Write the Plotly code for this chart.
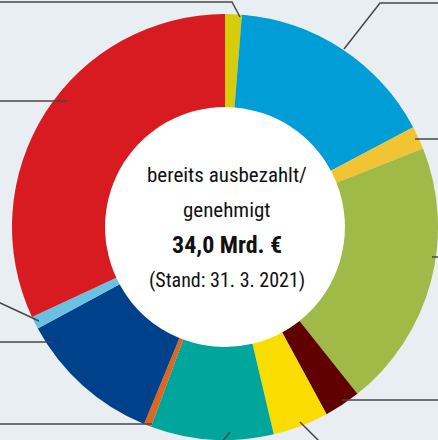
import plotly.graph_objects as go

# ---- data (Mrd. €), clockwise from 12 o'clock ----
segments = ["Segment 1", "Segment 2", "Segment 3", "Segment 4", "Segment 5", "Segment 6",
            "Segment 7", "Segment 8", "Segment 9", "Segment 10", "Segment 11"]
values = [0.43, 5.43, 0.60, 6.91, 0.94, 1.44, 3.17, 0.19, 3.70, 0.33, 10.86]
colors = ["#D6CC0A", "#009DD6", "#F0C433", "#A0BA48", "#600000", "#F9DC00",
          "#00A69C", "#E0651E", "#00418C", "#6AC2E2", "#D81B21"]

center_lines = ["bereits ausbezahlt/", "genehmigt", "<b>34,0 Mrd. €</b>", "(Stand: 31. 3. 2021)"]

# ---- layout constants ----
W, H = 438, 440
BG = "#E9EEF2"
FONT = "Roboto Condensed, Liberation Sans Narrow, Lato, sans-serif"

# leader lines (pixel coords of the page) – decoration only
leaders = [
    [(0, 2), (232, 2), (240, 17)],
    [(344, 49), (380, 3), (440, 3)],
    [(415, 139), (440, 139)],
    [(432, 257), (440, 257)],
    [(342, 400), (440, 400)],
    [(300, 422), (320, 442)],
    [(230, 432), (222, 442)],
    [(152, 424), (-2, 424)],
    [(53, 342), (-2, 342)],
    [(39, 321), (-2, 302)],
    [(67, 101), (-2, 101)],
]

CX, CY, R_IN = 225, 227, 121


def px(x):
    return x / W


def py(y):
    return 1 - y / H


fig = go.Figure()
fig.add_trace(go.Pie(
    labels=segments,
    values=values,
    marker=dict(colors=colors, line=dict(width=0)),
    hole=0.563,
    sort=False,
    direction="clockwise",
    rotation=0,
    textinfo="none",
    hoverinfo="label+value",
    showlegend=False,
    domain=dict(x=[12 / W, 1], y=[0, 1 - 14 / H]),
))

shapes = [dict(type="circle", xref="paper", yref="paper",
               x0=px(CX - R_IN), x1=px(CX + R_IN), y0=py(CY + R_IN), y1=py(CY - R_IN),
               fillcolor="white", line=dict(width=0), layer="below")]
for pts in leaders:
    path = "M " + " L ".join(f"{px(x):.5f},{py(y):.5f}" for x, y in pts)
    shapes.append(dict(type="path", xref="paper", yref="paper", path=path,
                       line=dict(color="#474747", width=1.5), layer="above"))

text_y = [175, 210, 245, 280]
sizes = [21, 21, 24, 20]
annotations = []
for t, yy, s in zip(center_lines, text_y, sizes):
    annotations.append(dict(text=t, x=px(227), y=py(yy), xref="paper", yref="paper",
                            xanchor="center", yanchor="middle", showarrow=False,
                            font=dict(family=FONT, size=s, color="#111111")))

fig.update_layout(
    width=W, height=H,
    margin=dict(l=0, r=0, t=0, b=0),
    paper_bgcolor=BG, plot_bgcolor=BG,
    shapes=shapes,
    annotations=annotations,
)

fig.write_html("out.html")
